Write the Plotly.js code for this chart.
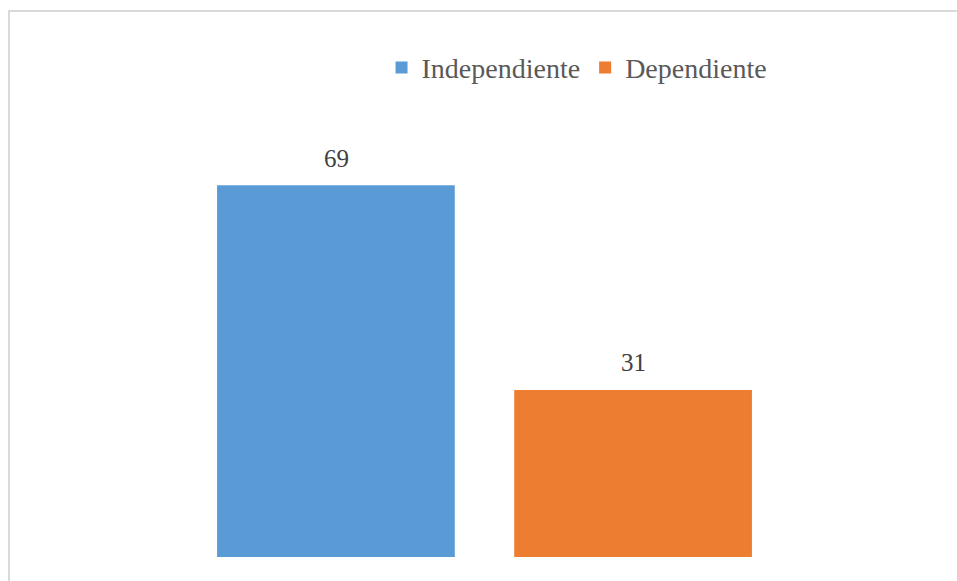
<!DOCTYPE html>
<html>
<head>
<meta charset="utf-8">
<script src="https://cdn.plot.ly/plotly-3.0.1.min.js"></script>
<style>
html,body{margin:0;padding:0;background:#fff;}
#chart{width:957px;height:581px;}
</style>
</head>
<body>
<div id="chart"></div>
<script>
const categories = ["Condición"];
const seriesNames = ["Independiente", "Dependiente"];
const independienteValues = [69];
const dependienteValues = [31];
const seriesColors = ["#5B9BD5", "#ED7D31"];

const legendFont = "Times New Roman";
const labelFont = "serif";
const allSeries = [independienteValues, dependienteValues];

const traces = allSeries.map((vals, i) => ({
  type: "bar", name: seriesNames[i], x: categories, y: vals,
  marker: {color: seriesColors[i]}, hoverinfo: "none"
}));

// value labels, placed at each bar's value with a pixel offset
const slotShift = [-148.5, 148.5];
const annotations = [];
allSeries.forEach((vals, i) => {
  vals.forEach((v, j) => {
    annotations.push({x: categories[j], y: v, xref: "x", yref: "y", text: String(v),
      showarrow: false, xshift: slotShift[i], yshift: 27, yanchor: "middle",
      font: {family: labelFont, size: 25, color: "#404040"}});
  });
});

const layout = {
  width: 957, height: 581,
  margin: {l: 60, r: 48, t: 126, b: 24},
  paper_bgcolor: "#ffffff", plot_bgcolor: "#ffffff",
  barmode: "group", bargap: 0.30, bargroupgap: 0.2,
  font: {family: legendFont, color: "#595959"},
  xaxis: {type: "category", range: [-0.5, 0.5], showticklabels: false, showgrid: false, zeroline: false, showline: false, ticks: "", fixedrange: true},
  yaxis: {range: [0, 80], showticklabels: false, showgrid: false, zeroline: false, showline: false, ticks: "", fixedrange: true},
  showlegend: true,
  legend: {orientation: "h", x: 0.609, xanchor: "center", y: 1.135, yanchor: "middle",
           font: {family: legendFont, size: 28, color: "#595959"}, bgcolor: "rgba(0,0,0,0)"},
  annotations: annotations,
  shapes: [{type: "rect", xref: "paper", yref: "paper", x0: -0.0601, x1: 2, y0: -1, y1: 1.2668,
            line: {color: "#d9d9d9", width: 2}, fillcolor: "rgba(0,0,0,0)", layer: "below"}]
};

Plotly.newPlot("chart", traces, layout, {displayModeBar: false, staticPlot: true});
</script>
</body>
</html>
